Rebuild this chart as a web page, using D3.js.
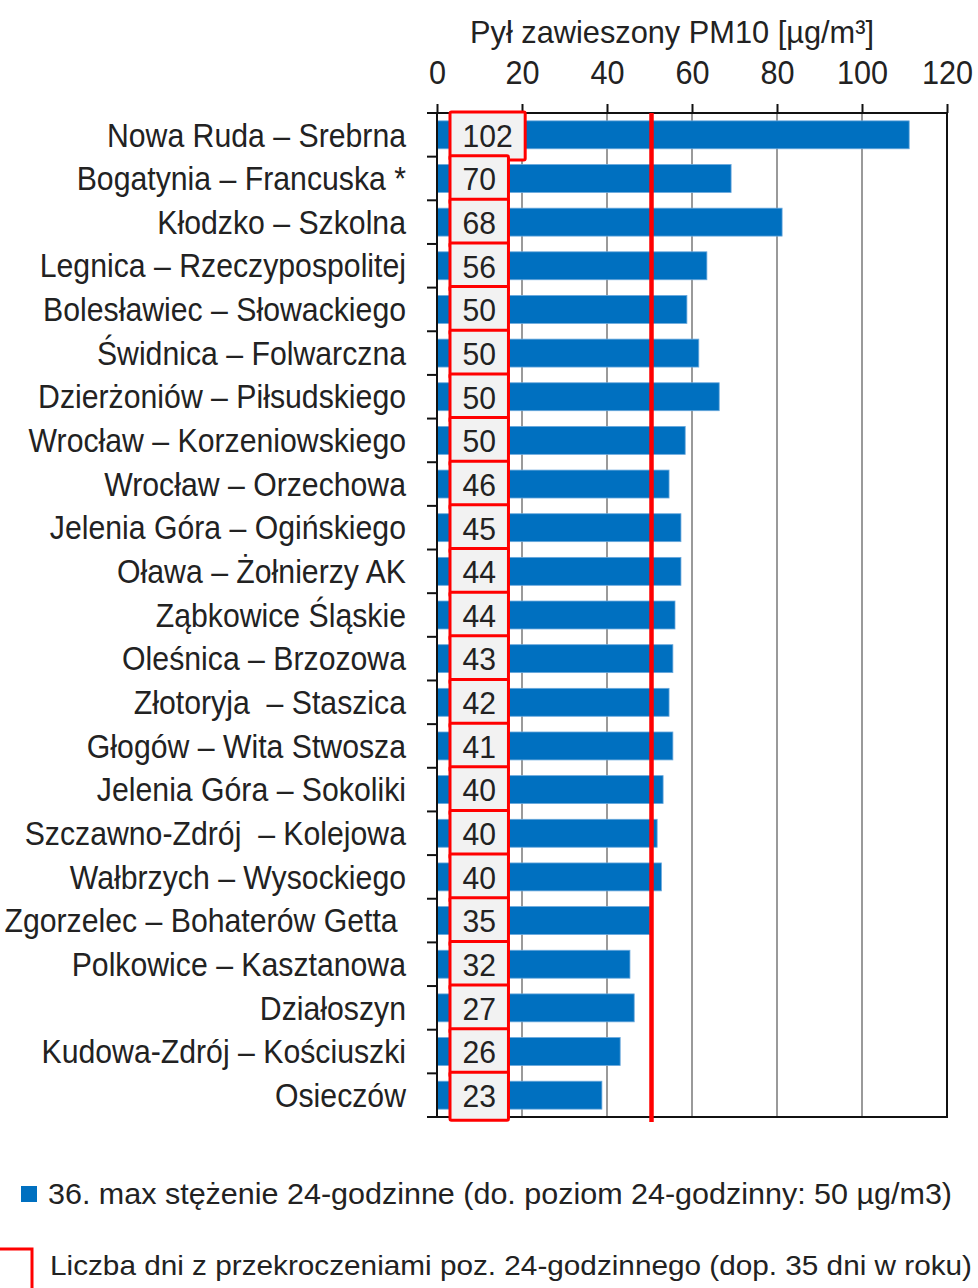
<!DOCTYPE html>
<html>
<head>
<meta charset="utf-8">
<script src="https://cdn.jsdelivr.net/npm/d3@7"></script>
<style>
  body { margin: 0; background: #fff; }
  text { font-family: "Liberation Sans", Arial, sans-serif; fill: #222; }
</style>
</head>
<body>
<div id="container"></div>
<script>
const BLUE = "#0070c0";
const RED = "#ff0000";

// stations, top to bottom
const stations = [
  "Nowa Ruda – Srebrna", "Bogatynia – Francuska *", "Kłodzko – Szkolna",
  "Legnica – Rzeczypospolitej", "Bolesławiec – Słowackiego", "Świdnica – Folwarczna",
  "Dzierżoniów – Piłsudskiego", "Wrocław – Korzeniowskiego", "Wrocław – Orzechowa",
  "Jelenia Góra – Ogińskiego", "Oława – Żołnierzy AK", "Ząbkowice Śląskie",
  "Oleśnica – Brzozowa", "Złotoryja  – Staszica", "Głogów – Wita Stwosza",
  "Jelenia Góra – Sokoliki", "Szczawno-Zdrój  – Kolejowa", "Wałbrzych – Wysockiego",
  "Zgorzelec – Bohaterów Getta ", "Polkowice – Kasztanowa", "Działoszyn",
  "Kudowa-Zdrój – Kościuszki", "Osieczów"
];

// 36th highest 24h concentration [µg/m3]
const maxValues = [
  111.1, 69.2, 81.2, 63.5, 58.8, 61.6, 66.4, 58.4, 54.6, 57.4, 57.4, 56.0,
  55.5, 54.6, 55.5, 53.2, 51.8, 52.8, 50.1, 45.4, 46.4, 43.1, 38.8
];

// number of days with exceedances
const dayCounts = [102, 70, 68, 56, 50, 50, 50, 50, 46, 45, 44, 44, 43, 42, 41, 40, 40, 40, 35, 32, 27, 26, 23];

const xTicks = [0, 20, 40, 60, 80, 100, 120];
const limit24h = 50;

const width = 978, height = 1288;
const plotLeft = 437, plotRight = 947, plotTop = 113, plotBottom = 1117;

const svg = d3.select("#container")
  .append("svg")
  .attr("width", width)
  .attr("height", height);

const x = d3.scaleLinear().domain([0, 120]).range([plotLeft, plotRight]);
const y = d3.scaleBand().domain(stations).range([plotTop, plotBottom])
  .paddingInner(0.36).paddingOuter(0.18);

// gridlines
svg.append("g")
  .selectAll("line")
  .data(xTicks.filter(d => d > 0 && d < 120))
  .join("line")
  .attr("x1", d => x(d)).attr("x2", d => x(d))
  .attr("y1", plotTop).attr("y2", plotBottom)
  .attr("stroke", "#9a9a9a")
  .attr("stroke-width", 2);

// bars
svg.append("g")
  .selectAll("rect")
  .data(stations)
  .join("rect")
  .attr("x", x(0))
  .attr("y", d => y(d))
  .attr("width", (d, i) => x(maxValues[i]) - x(0))
  .attr("height", y.bandwidth())
  .attr("fill", BLUE)
  .attr("stroke", "#6aa8dc")
  .attr("stroke-width", 0.8);

// plot frame
svg.append("rect")
  .attr("x", plotLeft).attr("y", plotTop)
  .attr("width", plotRight - plotLeft).attr("height", plotBottom - plotTop)
  .attr("fill", "none")
  .attr("stroke", "#111")
  .attr("stroke-width", 2);

// top axis
const xAxis = svg.append("g")
  .attr("transform", `translate(0,${plotTop})`)
  .call(d3.axisTop(x).tickValues(xTicks).tickSize(9).tickPadding(20));
xAxis.select(".domain").remove();
xAxis.selectAll(".tick line").attr("stroke", "#111").attr("stroke-width", 2);
xAxis.selectAll(".tick text")
  .attr("font-size", 34)
  .attr("font-family", "Liberation Sans, Arial, sans-serif")
  .attr("fill", "#222")
  .each(function() {
    const n = this.getComputedTextLength();
    d3.select(this).attr("textLength", n * 0.9).attr("lengthAdjust", "spacingAndGlyphs");
  });

// category ticks on row boundaries
const rowEdges = d3.range(stations.length + 1).map(i => plotTop + i * y.step());
svg.append("g")
  .selectAll("line")
  .data(rowEdges)
  .join("line")
  .attr("x1", plotLeft - 10).attr("x2", plotLeft)
  .attr("y1", d => d).attr("y2", d => d)
  .attr("stroke", "#111")
  .attr("stroke-width", 2);

// station labels (slightly condensed, like the original)
const yAxis = svg.append("g")
  .attr("transform", `translate(${plotLeft},0)`)
  .call(d3.axisLeft(y).tickSize(0).tickPadding(31));
yAxis.select(".domain").remove();
yAxis.selectAll(".tick text")
  .attr("font-size", 32.5)
  .attr("font-family", "Liberation Sans, Arial, sans-serif")
  .attr("fill", "#222")
  .attr("dy", "0.36em")
  .style("white-space", "pre")
  .each(function() {
    const n = this.getComputedTextLength();
    d3.select(this).attr("textLength", n * 0.93).attr("lengthAdjust", "spacingAndGlyphs");
  });

// limit line
svg.append("line")
  .attr("x1", x(limit24h) + 2).attr("x2", x(limit24h) + 2)
  .attr("y1", plotTop).attr("y2", plotBottom + 5)
  .attr("stroke", RED)
  .attr("stroke-width", 4.5);

// day count boxes, each one drawn over the previous
const box = svg.append("g")
  .selectAll("g")
  .data(stations)
  .join("g");

box.append("text")
  .attr("y", d => y(d) + y.bandwidth() / 2)
  .attr("dy", "0.37em")
  .attr("text-anchor", "middle")
  .attr("font-size", 32)
  .text((d, i) => dayCounts[i]);

box.each(function(d) {
  const g = d3.select(this);
  const t = g.select("text");
  const n = t.node().getComputedTextLength();
  t.attr("textLength", n * 0.94).attr("lengthAdjust", "spacingAndGlyphs");
  const w = n * 0.94 + 25;
  const bx = x(0) + 13;
  g.insert("rect", "text")
    .attr("x", bx)
    .attr("y", y(d) - y.step() * 0.18 - 1)
    .attr("width", w)
    .attr("height", 48)
    .attr("fill", "#f2f2f2")
    .attr("stroke", RED)
    .attr("stroke-width", 3)
    .attr("rx", 1.5);
  t.attr("x", bx + w / 2);
});

// title
svg.append("text")
  .attr("x", 672)
  .attr("y", 43)
  .attr("text-anchor", "middle")
  .attr("font-size", 31.5)
  .attr("textLength", 404)
  .attr("lengthAdjust", "spacingAndGlyphs")
  .text("Pył zawieszony PM10 [µg/m³]");

// legend
svg.append("rect")
  .attr("x", 21).attr("y", 1186)
  .attr("width", 16).attr("height", 16)
  .attr("fill", BLUE);

svg.append("text")
  .attr("x", 48).attr("y", 1204)
  .attr("font-size", 30)
  .attr("textLength", 904)
  .attr("lengthAdjust", "spacingAndGlyphs")
  .text("36. max stężenie 24-godzinne (do. poziom 24-godzinny: 50 µg/m3)");

svg.append("rect")
  .attr("x", -20).attr("y", 1249)
  .attr("width", 52).attr("height", 60)
  .attr("fill", "none")
  .attr("stroke", RED)
  .attr("stroke-width", 3);

svg.append("text")
  .attr("x", 50).attr("y", 1275)
  .attr("font-size", 28.5)
  .attr("textLength", 922)
  .attr("lengthAdjust", "spacingAndGlyphs")
  .text("Liczba dni z przekroczeniami poz. 24-godzinnego (dop. 35 dni w roku)");
</script>
</body>
</html>
